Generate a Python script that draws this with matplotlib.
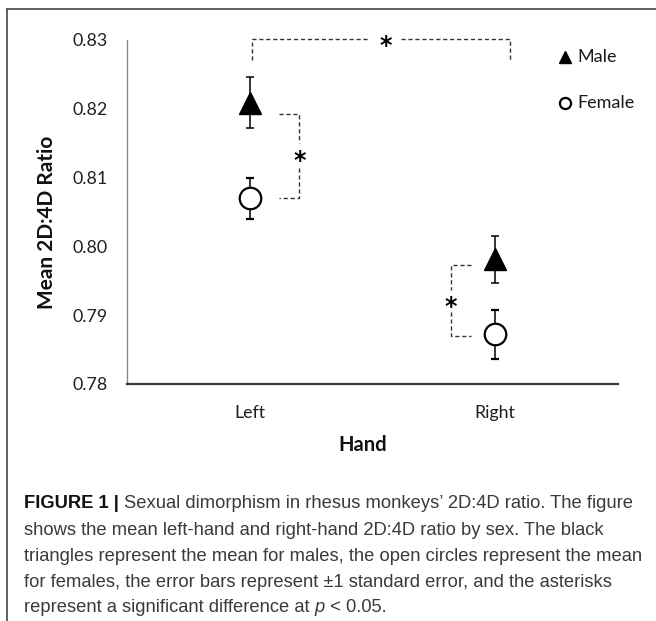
import matplotlib
matplotlib.use("Agg")
import matplotlib.pyplot as plt
from matplotlib import font_manager
from matplotlib.lines import Line2D
from matplotlib.transforms import offset_copy

# ---- data ----
hands = ["Left", "Right"]
male_mean = [0.8209, 0.7981]
male_se = [0.0037, 0.0034]
female_mean = [0.8070, 0.7872]
female_se = [0.0030, 0.0035]
yticks = [0.78, 0.79, 0.80, 0.81, 0.82, 0.83]
ytick_labels = ["0.78", "0.79", "0.80", "0.81", "0.82", "0.83"]

W, H = 656, 621
fig = plt.figure(figsize=(W / 100, H / 100), dpi=100)
fig.patch.set_facecolor("white")

names = {f.name for f in font_manager.fontManager.ttflist}
cfont = "Lato" if "Lato" in names else "DejaVu Sans"
capfont = "Liberation Sans Narrow" if "Liberation Sans Narrow" in names else "Liberation Sans"

ax = fig.add_axes([127 / W, 1 - 384 / H, (618 - 127) / W, (384 - 40) / H])
x = [1, 2]
ax.errorbar(x, male_mean, yerr=male_se, fmt="^", color="black", ms=15.5,
            ecolor="black", elinewidth=1.1, capsize=2.6, capthick=1.1, zorder=3)
ax.errorbar(x, female_mean, yerr=female_se, fmt="o", mfc="white", mec="black",
            mew=1.6, ms=15.5, ecolor="black", elinewidth=1.1, capsize=2.6,
            capthick=1.1, zorder=3)

ax.set_xlim(0.5, 2.5)
ax.set_ylim(0.78, 0.83)
ax.set_yticks(yticks)
ax.set_yticklabels(ytick_labels)
ax.set_xticks(x)
ax.set_xticklabels(hands)
ax.tick_params(axis="both", length=0, labelsize=12.8, colors="#1f1f1f")
ax.tick_params(axis="y", pad=14)
ax.tick_params(axis="x", pad=15)
for lab in ax.get_xticklabels() + ax.get_yticklabels():
    lab.set_fontfamily(cfont)
for s in ["top", "right"]:
    ax.spines[s].set_visible(False)
ax.spines["left"].set_color("#8a8a8a")
ax.spines["left"].set_linewidth(1.0)
ax.spines["bottom"].set_color("#3a3a3a")
ax.spines["bottom"].set_linewidth(1.6)

dash = dict(color="#333333", lw=1.0, linestyle=(0, (3, 2)), clip_on=False, zorder=2)
star_fs = 17
star_tr = offset_copy(ax.transData, fig=fig, y=-0.53 * star_fs, units="points")

def star(xv, yv):
    ax.text(xv, yv, "*", ha="center", va="baseline", fontsize=star_fs,
            fontweight="bold", family="DejaVu Sans", transform=star_tr,
            clip_on=False)

# top bracket (Left vs Right for males)
ax.plot([1.01, 1.01, 1.49], [0.8271, 0.8302, 0.8302], **dash)
ax.plot([1.616, 2.06, 2.06], [0.8302, 0.8302, 0.8271], **dash)
star(1.553, 0.8299)
# left bracket
ax.plot([1.12, 1.202, 1.202], [0.8192, 0.8192, 0.8150], **dash)
ax.plot([1.202, 1.202, 1.12], [0.8114, 0.8071, 0.8071], **dash)
star(1.202, 0.8132)
# right bracket
ax.plot([1.90, 1.819, 1.819], [0.7973, 0.7973, 0.7937], **dash)
ax.plot([1.819, 1.819, 1.90], [0.7905, 0.7870, 0.7870], **dash)
star(1.819, 0.7920)

# legend
ax.plot([2.284], [0.8276], "^", color="black", ms=9, clip_on=False)
ax.plot([2.284], [0.8209], "o", mfc="white", mec="black", mew=1.6, ms=8, clip_on=False)
ax.text(2.333, 0.8276, "Male", va="center", ha="left", fontsize=13,
        family=cfont, color="#1a1a1a")
ax.text(2.333, 0.8209, "Female", va="center", ha="left", fontsize=13,
        family=cfont, color="#1a1a1a")

# axis titles
fig.text(363 / W, 1 - 445 / H, "Hand", ha="center", va="center", fontsize=14.5,
         fontweight="bold", family=cfont, color="#111111")
fig.text(47 / W, 1 - 222 / H, "Mean 2D:4D Ratio", ha="center", va="center",
         rotation=90, fontsize=15, fontweight="bold", family=cfont, color="#111111")

# border
fig.add_artist(Line2D([7 / W, 7 / W], [0, 1 - 9 / H], color="#555555", lw=1.3,
                      transform=fig.transFigure))
fig.add_artist(Line2D([7 / W, 1], [1 - 9 / H, 1 - 9 / H], color="#555555", lw=1.3,
                      transform=fig.transFigure))

# caption
lines = [
    [("FIGURE 1 | ", "bold", "normal"), ("Sexual dimorphism in rhesus monkeys\u2019 2D:4D ratio. The figure", "normal", "normal")],
    [("shows the mean left-hand and right-hand 2D:4D ratio by sex. The black", "normal", "normal")],
    [("triangles represent the mean for males, the open circles represent the mean", "normal", "normal")],
    [("for females, the error bars represent \u00b11 standard error, and the asterisks", "normal", "normal")],
    [("represent a significant difference at ", "normal", "normal"), ("p", "normal", "italic"), (" < 0.05.", "normal", "normal")],
]
line_y = [508.5, 534.8, 560.6, 586.6, 611.8]
renderer = fig.canvas.get_renderer()

def draw_line(parts, y, size, draw=True):
    xpix = 24
    arts = []
    for txt, wt, st in parts:
        t = fig.text(xpix / W, 1 - y / H, txt, ha="left", va="baseline", fontsize=size,
                     fontweight=wt, fontstyle=st, family=capfont,
                     color="#111111" if wt == "bold" else "#3a3a3a")
        bb = t.get_window_extent(renderer)
        xpix += bb.width
        arts.append(t)
    if not draw:
        for a in arts:
            a.remove()
    return xpix - 24

base = 12.0
w = draw_line(lines[0], line_y[0], base, draw=False)
size = base * 610 / w
for parts, y in zip(lines, line_y):
    draw_line(parts, y, size)

fig.savefig("out.png", dpi=100, facecolor="white")
